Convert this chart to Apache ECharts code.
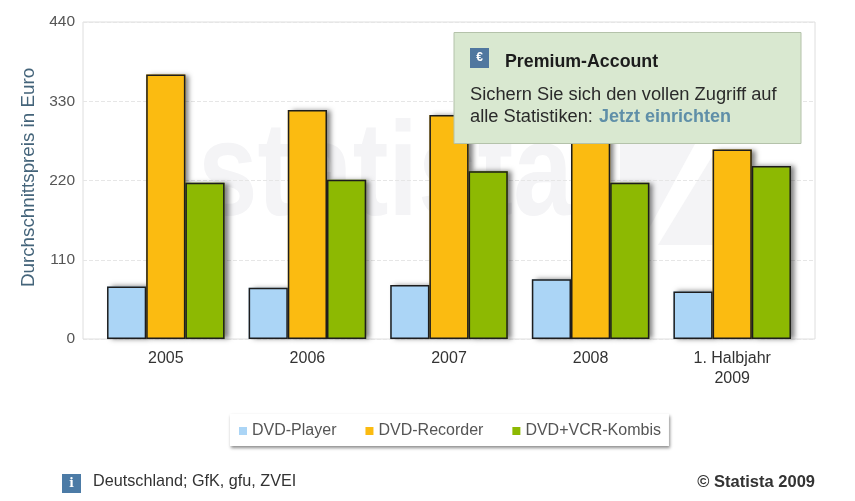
<!DOCTYPE html>
<html>
<head>
<meta charset="utf-8">
<style>
  html, body { margin: 0; padding: 0; background: #fff; }
  #chart { width: 855px; height: 501px; }
</style>
<script src="https://cdn.jsdelivr.net/npm/echarts@6/dist/echarts.min.js"></script>
</head>
<body>
<div id="chart"></div>
<script>
var categories = ['2005', '2006', '2007', '2008', '1. Halbjahr\n2009']
var player = [73, 71, 75, 83, 66]
var recorder = [367, 318, 311, 300, 263]
var kombi = [217, 221, 233, 217, 240]
var seriesNames = ['DVD-Player', 'DVD-Recorder', 'DVD+VCR-Kombis']
var colors = ['#abd5f6', '#fbbb11', '#8db902']
var font = '"Liberation Sans", Arial, sans-serif'

// filled bar with soft shadow, no outline
function barSeries (name, data, color) {
  return {
    name: name,
    type: 'bar',
    xAxisIndex: 1,
    yAxisIndex: 1,
    barGap: 0,
    barCategoryGap: '17%',
    itemStyle: {
      color: color,
      shadowColor: 'rgba(0,0,0,0.5)',
      shadowBlur: 5,
      shadowOffsetX: 4,
      shadowOffsetY: 0
    },
    emphasis: { disabled: true },
    data: data
  }
}

// outline drawn separately on top, otherwise its shadow falls inside the bar
function outlineSeries (data) {
  return {
    type: 'bar',
    xAxisIndex: 2,
    yAxisIndex: 2,
    barGap: 0,
    barCategoryGap: '17%',
    itemStyle: { color: 'transparent', borderColor: '#1d1d1d', borderWidth: 1.5 },
    emphasis: { disabled: true },
    data: data
  }
}

var chart = echarts.init(document.getElementById('chart'))
var option = {
  animation: false,
  backgroundColor: '#fff',
  // outer grid carries the frame and the y scale, inner ones the bars
  grid: [
    { left: 83, right: 40, top: 22, bottom: 162, show: true, borderColor: '#dedede', borderWidth: 1 },
    { left: 95, right: 52, top: 22, bottom: 162 },
    { left: 95, right: 52, top: 22, bottom: 162 }
  ],
  xAxis: [
    { gridIndex: 0, type: 'value', show: false, min: 0, max: 1 },
    {
      gridIndex: 1,
      type: 'category',
      data: categories,
      axisLine: { show: false },
      axisTick: { show: false },
      axisLabel: { color: '#333', fontFamily: font, fontSize: 16, lineHeight: 20, margin: 10, interval: 0 }
    },
    { gridIndex: 2, type: 'category', show: false, data: categories }
  ],
  yAxis: [
    {
      gridIndex: 0,
      type: 'value',
      min: 0,
      max: 440,
      interval: 110,
      name: 'Durchschnittspreis in Euro',
      nameLocation: 'middle',
      nameGap: 45,
      nameTextStyle: { color: '#44647a', fontFamily: font, fontSize: 18.8, padding: [0, 0, 0, 6] },
      axisLine: { show: false },
      axisTick: { show: false },
      axisLabel: { color: '#555', fontFamily: font, fontSize: 15.5, margin: 8 },
      splitLine: { lineStyle: { color: '#e6e6e6', type: 'dashed' } }
    },
    { gridIndex: 1, type: 'value', show: false, min: 0, max: 440 },
    { gridIndex: 2, type: 'value', show: false, min: 0, max: 440 }
  ],
  legend: {
    left: 230,
    top: 414,
    data: seriesNames,
    icon: 'rect',
    itemWidth: 8,
    itemHeight: 8,
    itemGap: 29,
    padding: [9, 8, 7, 9],
    backgroundColor: '#fff',
    shadowColor: 'rgba(0,0,0,0.45)',
    shadowBlur: 3,
    shadowOffsetX: 1,
    shadowOffsetY: 2,
    itemStyle: { borderWidth: 0, shadowBlur: 0, shadowOffsetX: 0 },
    textStyle: { color: '#555', fontFamily: font, fontSize: 16 },
    selectedMode: false
  },
  graphic: [
    // watermark behind the bars
    {
      type: 'text',
      x: 198,
      y: 245,
      scaleY: 1.25,
      z: 0,
      silent: true,
      style: { text: 'statista', fill: '#f4f4f6', font: 'bold 107px ' + font, textVerticalAlign: 'bottom' }
    },
    {
      type: 'polygon',
      z: 0,
      silent: true,
      shape: { points: [[620, 144], [695, 144], [640, 245], [620, 245]] },
      style: { fill: '#f4f4f6' }
    },
    {
      type: 'polygon',
      z: 0,
      silent: true,
      shape: { points: [[713, 155], [713, 245], [658, 245]] },
      style: { fill: '#f4f4f6' }
    },
    // premium box
    {
      type: 'rect',
      z: 50,
      shape: { x: 454, y: 32.5, width: 347, height: 111 },
      style: { fill: '#d9e8d0', stroke: '#b4c2aa', lineWidth: 1 }
    },
    {
      type: 'rect',
      z: 51,
      shape: { x: 470, y: 48, width: 19, height: 20 },
      style: { fill: '#50779f' }
    },
    {
      type: 'text',
      z: 52,
      x: 479.5,
      y: 58,
      style: { text: '€', fill: '#fff', font: 'bold 12px ' + font, textAlign: 'center', textVerticalAlign: 'middle' }
    },
    {
      type: 'text',
      z: 52,
      x: 505,
      y: 62,
      style: { text: 'Premium-Account', fill: '#1c1c1c', font: 'bold 17.8px ' + font, textVerticalAlign: 'middle' }
    },
    {
      type: 'text',
      z: 52,
      x: 470,
      y: 95,
      style: { text: 'Sichern Sie sich den vollen Zugriff auf', fill: '#2a2a2a', font: '18.3px ' + font, textVerticalAlign: 'middle' }
    },
    {
      type: 'text',
      z: 52,
      x: 470,
      y: 117,
      style: { text: 'alle Statistiken:', fill: '#2a2a2a', font: '18.3px ' + font, textVerticalAlign: 'middle' }
    },
    {
      type: 'text',
      z: 52,
      x: 599,
      y: 117,
      style: { text: 'Jetzt einrichten', fill: '#5f8fa8', font: 'bold 18px ' + font, textVerticalAlign: 'middle' }
    },
    // footer
    {
      type: 'rect',
      shape: { x: 62, y: 474, width: 19, height: 19 },
      style: { fill: '#4c7ba6' }
    },
    {
      type: 'text',
      x: 71.5,
      y: 484,
      z: 3,
      style: { text: 'i', fill: '#fff', font: 'bold 12px "DejaVu Serif", serif', textAlign: 'center', textVerticalAlign: 'middle' }
    },
    {
      type: 'text',
      x: 93,
      y: 482,
      style: { text: 'Deutschland; GfK, gfu, ZVEI', fill: '#333', font: '16.2px ' + font, textVerticalAlign: 'middle' }
    },
    {
      type: 'text',
      x: 815,
      y: 482,
      style: { text: '© Statista 2009', fill: '#333', font: 'bold 16.5px ' + font, textAlign: 'right', textVerticalAlign: 'middle' }
    }
  ],
  series: [
    barSeries(seriesNames[0], player, colors[0]),
    barSeries(seriesNames[1], recorder, colors[1]),
    barSeries(seriesNames[2], kombi, colors[2]),
    outlineSeries(player),
    outlineSeries(recorder),
    outlineSeries(kombi)
  ]
}
chart.setOption(option)
</script>
</body>
</html>
